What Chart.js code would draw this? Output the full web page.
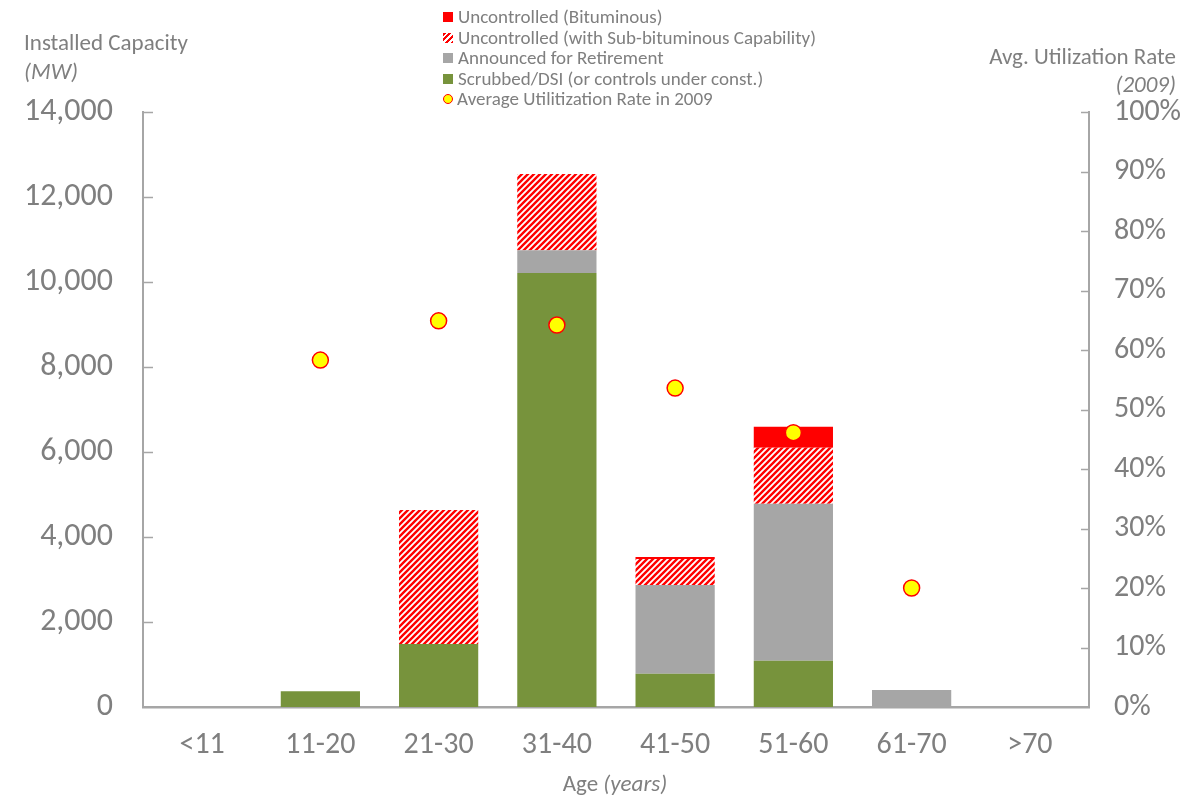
<!DOCTYPE html>
<html>
<head>
<meta charset="utf-8">
<script src="https://cdn.jsdelivr.net/npm/chart.js@4.4.1/dist/chart.umd.min.js"></script>
<style>
  body { margin: 0; background: #fff; font-family: Carlito, Lato, "Open Sans", sans-serif; color: #7f7f7f; }
  #wrap { position: relative; width: 1194px; height: 801px; }
  .lbl { position: absolute; font-size: 23px; line-height: 28px; white-space: nowrap; }
  .it { font-style: italic; }
  #legend { position: absolute; left: 443px; top: 7px; font-size: 19px; }
  #legend div { height: 20.5px; line-height: 20.5px; display: flex; align-items: center; }
  #legend span.box { display: inline-block; width: 10px; height: 10px; margin-right: 5px; }
  #legend span.dot { display: inline-block; width: 8px; height: 8px; border: 1.5px solid #ff0000; background: #ffff00; border-radius: 50%; margin-right: 4px; }
</style>
</head>
<body>
<div id="wrap">
  <canvas id="ageChart" width="1194" height="801"></canvas>
  <div class="lbl" style="left:24px; top:28px;">Installed Capacity</div>
  <div class="lbl it" style="left:24px; top:57px;">(MW)</div>
  <div class="lbl" style="right:18px; top:42px;">Avg. Utilization Rate</div>
  <div class="lbl it" style="right:18px; top:70px;">(2009)</div>
  <div class="lbl" style="left:0; width:1230px; text-align:center; top:769px;">Age <span class="it">(years)</span></div>
  <div id="legend"></div>
</div>
<script>
const ageGroups = ["<11", "11-20", "21-30", "31-40", "41-50", "51-60", "61-70", ">70"];

// MW per age group
const scrubbed = [0, 370, 1480, 10210, 780, 1090, 0, 0];
const retiring = [0, 0, 0, 540, 2090, 3690, 400, 0];
const subBituminous = [0, 0, 3155, 1790, 610, 1320, 0, 0];
const bituminous = [0, 0, 0, 0, 50, 495, 0, 0];

// average utilization rate in 2009, percent
const utilization = [null, 58.3, 64.9, 64.2, 53.6, 46.1, 20.0, null];

const leftTicks = [0, 2000, 4000, 6000, 8000, 10000, 12000, 14000];

const legendItems = [
  { text: "Uncontrolled (Bituminous)", style: "background:#ff0000" },
  { text: "Uncontrolled (with Sub-bituminous Capability)", style: "background:repeating-linear-gradient(-45deg,#ff0000 0 2px,#fff 2px 4px)" },
  { text: "Announced for Retirement", style: "background:#a6a6a6" },
  { text: "Scrubbed/DSI (or controls under const.)", style: "background:#77933c" },
  { text: "Average Utilitization Rate in 2009", dot: true },
];

const legendEl = document.getElementById("legend");
legendItems.forEach((item) => {
  const row = document.createElement("div");
  row.innerHTML = item.dot
    ? `<span class="dot"></span>${item.text}`
    : `<span class="box" style="${item.style}"></span>${item.text}`;
  legendEl.appendChild(row);
});

function makeHatch() {
  const c = document.createElement("canvas");
  c.width = 6;
  c.height = 6;
  const g = c.getContext("2d");
  g.fillStyle = "#ffffff";
  g.fillRect(0, 0, 6, 6);
  g.strokeStyle = "#ff0000";
  g.lineWidth = 2.4;
  g.beginPath();
  g.moveTo(-1, 7); g.lineTo(7, -1);
  g.moveTo(-4, 4); g.lineTo(4, -4);
  g.moveTo(2, 10); g.lineTo(10, 2);
  g.stroke();
  return g.createPattern(c, "repeat");
}

const ctx = document.getElementById("ageChart").getContext("2d");
const hatch = makeHatch();

// short tick marks drawn inside the plot area, like the original
const innerTicks = {
  id: "innerTicks",
  afterDatasetsDraw(chart) {
    const c = chart.ctx;
    const yL = chart.scales.y;
    const yR = chart.scales.y1;
    c.save();
    c.strokeStyle = "#a6a6a6";
    c.lineWidth = 1.5;
    yL.ticks.forEach((t) => {
      if (t.value === 0) return;
      const py = Math.round(yL.getPixelForValue(t.value)) + 0.5;
      c.beginPath();
      c.moveTo(yL.right, py);
      c.lineTo(yL.right + 10, py);
      c.stroke();
    });
    yR.ticks.forEach((t) => {
      if (t.value === 0) return;
      const py = Math.round(yR.getPixelForValue(t.value)) + 0.5;
      c.beginPath();
      c.moveTo(yR.left, py);
      c.lineTo(yR.left - 8, py);
      c.stroke();
    });
    c.restore();
  },
};

const fontFamily = "Carlito, Lato, 'Open Sans', sans-serif";

new Chart(ctx, {
  data: {
    labels: ageGroups,
    datasets: [
      {
        type: "line",
        label: "Average Utilitization Rate in 2009",
        data: utilization,
        yAxisID: "y1",
        showLine: false,
        pointRadius: 8,
        pointBackgroundColor: "#ffff00",
        pointBorderColor: "#ff0000",
        pointBorderWidth: 1.5,
        order: 0,
      },
      { type: "bar", label: "Scrubbed/DSI (or controls under const.)", data: scrubbed, backgroundColor: "#77933c", order: 1 },
      { type: "bar", label: "Announced for Retirement", data: retiring, backgroundColor: "#a6a6a6", order: 1 },
      { type: "bar", label: "Uncontrolled (with Sub-bituminous Capability)", data: subBituminous, backgroundColor: hatch, order: 1 },
      { type: "bar", label: "Uncontrolled (Bituminous)", data: bituminous, backgroundColor: "#ff0000", order: 1 },
    ],
  },
  options: {
    responsive: false,
    animation: false,
    layout: { padding: { top: 112, left: 0, right: 0, bottom: 0 } },
    datasets: { bar: { categoryPercentage: 1, barPercentage: 0.67 } },
    plugins: { legend: { display: false }, tooltip: { enabled: false } },
    scales: {
      x: {
        stacked: true,
        grid: { display: false, drawTicks: false },
        border: { color: "#a6a6a6", width: 2.5 },
        ticks: { color: "#7f7f7f", font: { family: fontFamily, size: 30 }, padding: 20 },
        afterFit(scale) { scale.height = 94; },
      },
      y: {
        stacked: true,
        position: "left",
        min: 0,
        max: 14000,
        afterBuildTicks(scale) { scale.ticks = leftTicks.map((v) => ({ value: v })); },
        grid: { display: false, drawTicks: false },
        border: { color: "#a6a6a6", width: 2 },
        ticks: {
          color: "#7f7f7f",
          font: { family: fontFamily, size: 32 },
          padding: 30,
          callback: (v) => v.toLocaleString("en-US"),
        },
        afterFit(scale) { scale.width = 143; },
      },
      y1: {
        position: "right",
        min: 0,
        max: 100,
        grid: { display: false, drawTicks: false },
        border: { color: "#a6a6a6", width: 2 },
        ticks: {
          stepSize: 10,
          color: "#7f7f7f",
          font: { family: fontFamily, size: 30 },
          padding: 25,
          callback: (v) => v + "%",
        },
        afterFit(scale) { scale.width = 105; },
      },
    },
  },
  plugins: [innerTicks],
});
</script>
</body>
</html>
